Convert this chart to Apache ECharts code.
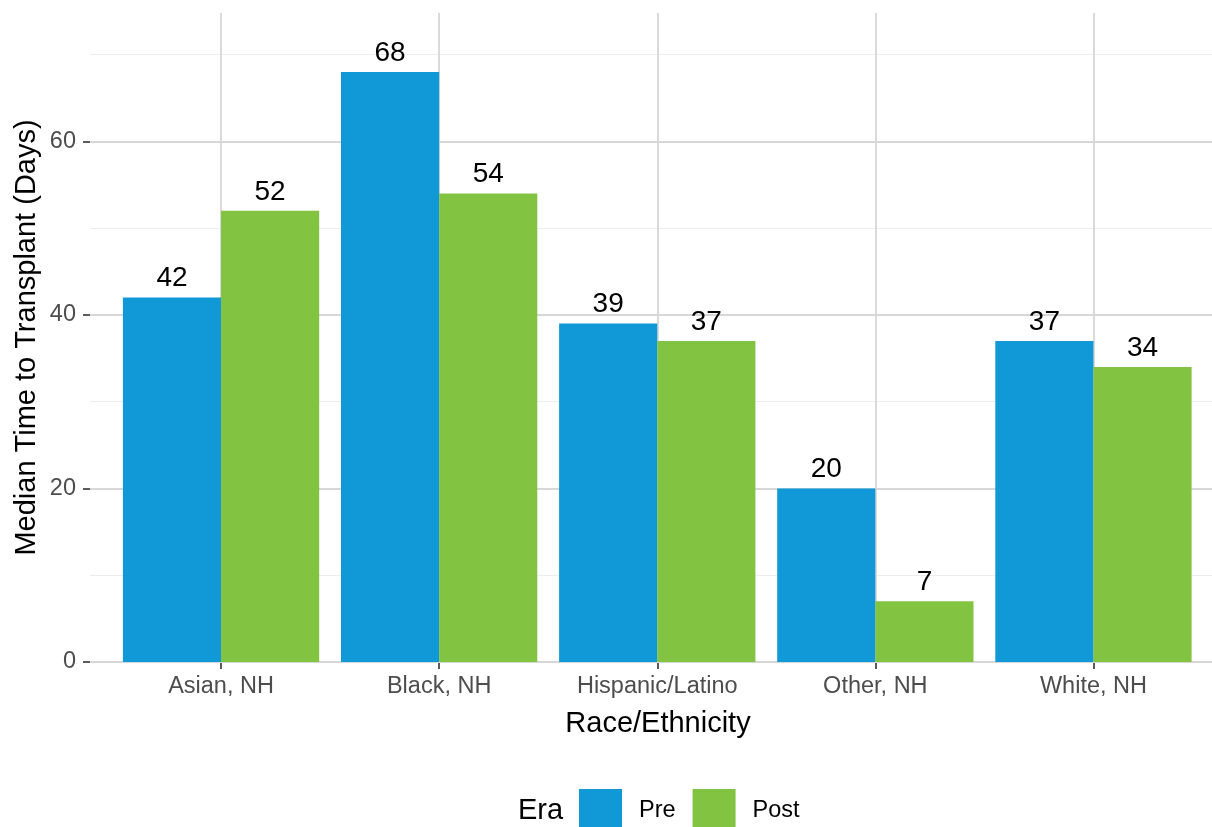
<!DOCTYPE html>
<html>
<head>
<meta charset="utf-8">
<script src="https://cdn.jsdelivr.net/npm/echarts@6/dist/echarts.min.js"></script>
<style>
html,body{margin:0;padding:0;background:#fff;}
#chart{width:1212px;height:827px;}
</style>
</head>
<body>
<div id="chart"></div>
<script>
var categories = ['Asian, NH', 'Black, NH', 'Hispanic/Latino', 'Other, NH', 'White, NH'];
var preValues = [42, 68, 39, 20, 37];
var postValues = [52, 54, 37, 7, 34];
var seriesNames = ['Pre', 'Post'];
var yMax = 74.8;

var FONT = '"Liberation Sans", Arial, Helvetica, sans-serif';
var BLUE = '#1199D7';
var GREEN = '#82C341';

var chart = echarts.init(document.getElementById('chart'), null, {renderer: 'canvas'});

var option = {
  backgroundColor: '#ffffff',
  animation: false,
  grid: [
    {left: 90, right: -12, top: 13, bottom: 165, containLabel: false},
    {left: 112, right: 9.5, top: 13, bottom: 165, containLabel: false}
  ],
  xAxis: [
    {type: 'value', gridIndex: 0, min: 0, max: 1, show: false},
    {
      type: 'category', gridIndex: 1, data: categories,
      axisLine: {show: false},
      axisTick: {show: true, alignWithLabel: true, length: 7, lineStyle: {color: '#333333', width: 1.6}},
      axisLabel: {interval: 0, fontFamily: FONT, fontSize: 23.5, color: '#4d4d4d', margin: 13},
      splitLine: {show: true, alignWithLabel: true, interval: 0, lineStyle: {color: '#dadada', width: 2}}
    }
  ],
  yAxis: [
    {
      type: 'value', gridIndex: 0, min: 0, max: yMax, interval: 10, position: 'left', z: 0,
      axisLine: {show: false}, axisTick: {show: false}, axisLabel: {show: false},
      splitLine: {show: true, showMaxLine: false, lineStyle: {color: '#ededed', width: 1}}
    },
    {
      type: 'value', gridIndex: 0, min: 0, max: yMax, interval: 20, position: 'left', z: 1,
      axisLine: {show: false},
      axisTick: {show: true, length: 7, lineStyle: {color: '#333333', width: 1.6}},
      axisLabel: {fontFamily: FONT, fontSize: 23.5, color: '#4d4d4d', margin: 14, showMaxLabel: false},
      splitLine: {show: true, showMaxLine: false, lineStyle: {color: '#d7d7d7', width: 2}}
    },
    {type: 'value', gridIndex: 1, min: 0, max: yMax, show: false}
  ],
  legend: {
    left: 579, top: 789, padding: 0,
    itemWidth: 43, itemHeight: 43, itemGap: 17,
    icon: 'rect',
    data: seriesNames,
    textStyle: {fontFamily: FONT, fontSize: 23.5, color: '#000000', padding: [0, 0, 0, 12]}
  },
  graphic: [
    {type: 'text', left: 518, top: 796, style: {text: 'Era', font: '29px ' + FONT, fill: '#000000'}},
    {type: 'text', x: 658, y: 724, style: {text: 'Race/Ethnicity', font: '29px ' + FONT, fill: '#000000', textAlign: 'center', textVerticalAlign: 'middle'}},
    {type: 'text', x: 27, y: 337.5, rotation: Math.PI / 2, style: {text: 'Median Time to Transplant (Days)', font: '29px ' + FONT, fill: '#000000', textAlign: 'center', textVerticalAlign: 'middle'}}
  ],
  series: [
    {
      name: seriesNames[0], type: 'bar', xAxisIndex: 1, yAxisIndex: 2,
      data: preValues, barWidth: '45%', barGap: '0%',
      itemStyle: {color: BLUE},
      label: {show: true, position: 'top', distance: 5, fontFamily: FONT, fontSize: 28, color: '#000000'}
    },
    {
      name: seriesNames[1], type: 'bar', xAxisIndex: 1, yAxisIndex: 2,
      data: postValues, barWidth: '45%', barGap: '0%',
      itemStyle: {color: GREEN},
      label: {show: true, position: 'top', distance: 5, fontFamily: FONT, fontSize: 28, color: '#000000'}
    }
  ]
};
chart.setOption(option);
</script>
</body>
</html>
